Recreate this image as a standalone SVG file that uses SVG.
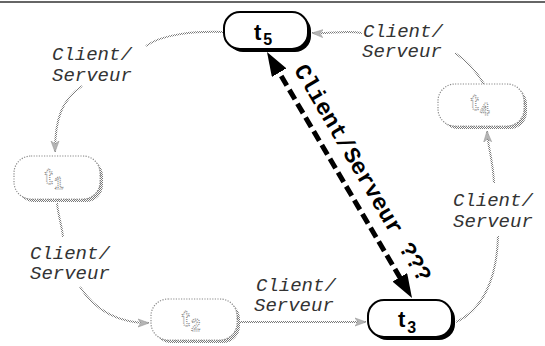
<svg xmlns="http://www.w3.org/2000/svg" width="545" height="346" viewBox="0 0 545 346">
  <defs>
    <!-- halftone dot fill used for the faded (grey) parts -->
    <pattern id="stip" width="2" height="2" patternUnits="userSpaceOnUse">
      <rect width="1" height="1" fill="#7a7a7a"/>
      <rect x="1" y="1" width="1" height="1" fill="#7a7a7a"/>
    </pattern>
    <marker id="greyHead" viewBox="0 0 12 10" refX="11" refY="5" markerWidth="12" markerHeight="10" markerUnits="userSpaceOnUse" orient="auto">
      <path d="M0,1 L11,5 L0,9 L3,5 z" fill="#b5b5b5" stroke="#999" stroke-width="0.6"/>
    </marker>
    <marker id="bigHead" viewBox="0 0 24 17" refX="12" refY="8.5" markerWidth="24" markerHeight="17" markerUnits="userSpaceOnUse" orient="auto-start-reverse">
      <path d="M0,0 L24,8.5 L0,17 z" fill="#000"/>
    </marker>
  </defs>
  <style>
    .lbl { font-family: "Liberation Mono", "Courier New", monospace; font-style: italic; font-size: 19px; fill: #333; }
    .qlbl { font-family: "Liberation Mono", "Courier New", monospace; font-weight: bold; font-size: 23px; fill: #000; }
    .bshadow { fill: #000; }
    .bbox { fill: #fff; stroke: #000; stroke-width: 2; }
    .btxt { font-family: "Liberation Sans", Arial, sans-serif; font-weight: bold; font-size: 22px; fill: #000; }
    .gshadow { fill: url(#stip); }
    .gbox { fill: #fff; stroke: #8a8a8a; stroke-width: 1.2; stroke-dasharray: 1.2 1.4; }
    .gtxt { font-family: "Liberation Sans", Arial, sans-serif; font-weight: bold; font-size: 22px; fill: #fff; stroke: #888; stroke-width: 1.2; stroke-dasharray: 1 1; }
    .gline { fill: none; stroke: url(#stip); stroke-width: 2; }
    .dash { fill: none; stroke: #000; stroke-width: 5; stroke-dasharray: 11 5; }
  </style>

  <!-- page rule at the top -->
  <line x1="0" y1="2" x2="545" y2="2" stroke="#333" stroke-width="1.5"/>

  <g id="connectors">
    <!-- t5 -> t1 -->
    <path class="gline" d="M224,32 C195,31 162,34 146,46"/>
    <path class="gline" d="M82,86 C62,100 55,118 55,152" marker-end="url(#greyHead)"/>
    <!-- t1 -> t2 -->
    <path class="gline" d="M57,203 C58,215 62,226 63,237"/>
    <path class="gline" d="M80,287 C95,310 118,323 149,323" marker-end="url(#greyHead)"/>
    <!-- t2 -> t3 -->
    <path class="gline" d="M240,322 L366,322" marker-end="url(#greyHead)"/>
    <!-- t3 -> t4 -->
    <path class="gline" d="M456,322 C482,310 497,280 498,236"/>
    <path class="gline" d="M494,183 C493,160 488,148 487,131" marker-end="url(#greyHead)"/>
    <!-- t4 -> t5 -->
    <path class="gline" d="M484,84 C476,71 466,60 455,53"/>
    <path class="gline" d="M362,33 C345,30 330,34 312,33" marker-end="url(#greyHead)"/>
    <!-- uncertain t5 <-> t3 link -->
    <line class="dash" x1="273.1" y1="62.3" x2="405.9" y2="287.7" marker-start="url(#bigHead)" marker-end="url(#bigHead)"/>
  </g>

  <g id="labels">
    <text class="lbl" x="52" y="60">Client/</text>
    <text class="lbl" x="52" y="81">Serveur</text>
    <text class="lbl" x="363" y="37">Client/</text>
    <text class="lbl" x="362" y="57">Serveur</text>
    <text class="lbl" x="30" y="259">Client/</text>
    <text class="lbl" x="30" y="279">Serveur</text>
    <text class="lbl" x="256" y="291">Client/</text>
    <text class="lbl" x="254" y="311">Serveur</text>
    <text class="lbl" x="453" y="206">Client/</text>
    <text class="lbl" x="453" y="227">Serveur</text>
    <text class="qlbl" transform="translate(293.5,69.7) rotate(59.5)">Client/Serveur ???</text>
  </g>

  <g id="t5">
    <rect class="bshadow" x="227" y="15" width="84" height="37" rx="16"/>
    <rect class="bbox" x="224" y="12" width="84" height="37" rx="16"/>
    <text class="btxt" x="254" y="40">t<tspan dx="2" dy="5" font-size="16">5</tspan></text>
  </g>

  <g id="t3">
    <rect class="bshadow" x="371" y="303" width="84" height="37" rx="16"/>
    <rect class="bbox" x="368" y="300" width="84" height="37" rx="16"/>
    <text class="btxt" x="398" y="327">t<tspan dx="2" dy="6" font-size="16">3</tspan></text>
  </g>

  <g id="t1">
    <rect class="gshadow" x="17" y="159" width="86" height="43" rx="17"/>
    <rect class="gbox" x="14" y="156" width="86" height="43" rx="17"/>
    <text class="gtxt" x="45" y="184">t<tspan dx="2" dy="5" font-size="16">1</tspan></text>
  </g>

  <g id="t2">
    <rect class="gshadow" x="154" y="302" width="86" height="41" rx="17"/>
    <rect class="gbox" x="151" y="299" width="86" height="41" rx="17"/>
    <text class="gtxt" x="182" y="326">t<tspan dx="2" dy="5" font-size="16">2</tspan></text>
  </g>

  <g id="t4">
    <rect class="gshadow" x="441" y="87" width="86" height="42" rx="17"/>
    <rect class="gbox" x="438" y="84" width="86" height="42" rx="17"/>
    <text class="gtxt" x="471" y="110">t<tspan dx="2" dy="5" font-size="16">4</tspan></text>
  </g>
</svg>
